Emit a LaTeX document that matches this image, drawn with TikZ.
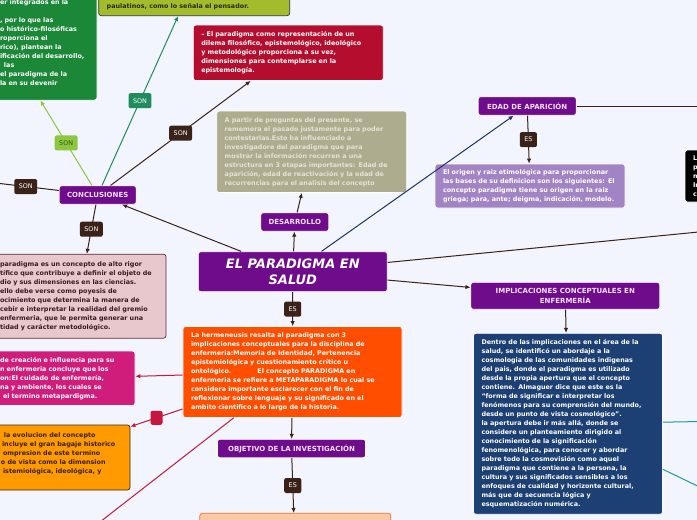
\documentclass[tikz,border=0pt]{standalone}
\usepackage{fontspec}
\setmainfont{DejaVu Sans}
\usetikzlibrary{positioning,arrows.meta,calc}
\hyphenpenalty=10000

\definecolor{bgcol}{HTML}{F2F5FD}
\definecolor{titlepurple}{HTML}{6E0C8C}
\definecolor{headtext}{HTML}{F0E2F6}
\definecolor{linebrown}{HTML}{3B2218}
\definecolor{hermorange}{HTML}{FF4E00}
\definecolor{dilemared}{HTML}{B40D2E}
\definecolor{khaki}{HTML}{AEAC8F}
\definecolor{khakitext}{HTML}{E4E3D5}
\definecolor{olivebox}{HTML}{A3BC2C}
\definecolor{olivetext}{HTML}{2A2A12}
\definecolor{greenbox}{HTML}{1B8838}
\definecolor{lightgreen}{HTML}{8DC63F}
\definecolor{sontext}{HTML}{2F5A1A}
\definecolor{tealgreen}{HTML}{1E8C5C}
\definecolor{navyline}{HTML}{1C3566}
\definecolor{lavender}{HTML}{A283C3}
\definecolor{bluebox}{HTML}{1C3F74}
\definecolor{tealline}{HTML}{1A9AA2}
\definecolor{pinkbox}{HTML}{E8C7CD}
\definecolor{pinkborder}{HTML}{5E2A38}
\definecolor{pinktext}{HTML}{3C1A22}
\definecolor{magentabox}{HTML}{D01C7B}
\definecolor{crimson}{HTML}{C8163F}
\definecolor{yellowbox}{HTML}{FF9A00}
\definecolor{yellowborder}{HTML}{3A2A14}
\definecolor{yellowtext}{HTML}{3A2008}
\definecolor{peachbox}{HTML}{F9C9A2}
\definecolor{peachborder}{HTML}{FF6B2C}

\begin{document}
\begin{tikzpicture}[x=1pt,y=-1pt,>={Latex[length=5pt,width=4.5pt]},
  font=\bfseries\fontsize{6.4}{9}\selectfont,
  card/.style={rounded corners=2.5pt,draw=white,line width=0.7pt,text=white,align=left,inner xsep=8pt,inner ysep=0pt},
  head/.style={rounded corners=2.5pt,fill=titlepurple,draw=white,line width=0.7pt,text=headtext,inner sep=0pt,minimum height=18.5pt,font=\bfseries\fontsize{7}{9.5}\selectfont},
  tag/.style={rounded corners=2pt,fill=linebrown,text=white,inner xsep=4.5pt,inner ysep=0pt,minimum height=15pt,font=\fontsize{6.4}{7}\selectfont},
  link/.style={->,linebrown,line width=1pt}]
  \useasboundingbox (0,0) rectangle (697,520);
  \fill[bgcol] (0,0) rectangle (697,520);

  % centre and the column below it
  \node[head,font=\bfseries\itshape\fontsize{13}{16}\selectfont,text=white,align=center,minimum width=189pt,minimum height=40pt] (title) at (292.8,271.7) {EL PARADIGMA EN\\SALUD};
  \node[card,fill=hermorange,minimum width=219pt,minimum height=91pt,text width=203pt] (herm) at (292.5,372) {La hermeneusis resalta al paradigma con 3\\implicaciones conceptuales para la disciplina de\\enfermeria:Memoria de Identidad, Pertenencia\\epistemiológica y cuestionamiento crítico u\\ontológico.\hspace{26pt}El concepto PARADIGMA en\\enfermeria se refiere a METAPARADIGMA lo cual se\\considera importante esclarecer con el fin de\\reflexionar sobre lenguaje y su significado en el\\ambito cientifico a lo largo de la historia.};
  \node[head,minimum width=148pt] (goal) at (291.5,448.5) {OBJETIVO DE LA INVESTIGACIÓN};
  \node[card,fill=peachbox,draw=peachborder,minimum width=191pt,minimum height=92pt] (aim) at (295.3,559.3) {};

  % desarrollo
  \node[head,minimum width=68pt] (devel) at (294.8,222) {DESARROLLO};
  \node[card,fill=khaki,text=khakitext,minimum width=190pt,minimum height=81.5pt,text width=174pt] (stages) at (311.7,151.8) {A partir de preguntas del presente, se\\rememora el pasado justamente para poder\\contestarlas.Esto ha influenciado a\\investigadore del paradigma que para\\mostrar la información recurren a una\\estructura en 3 etapas importantes: Edad de\\aparición, edad de reactivación y la edad de\\recurrencias para el analisis del concepto};

  % conclusiones
  \node[head,minimum width=77pt] (concl) at (97.7,195) {CONCLUSIONES};
  \node[card,fill=dilemared,minimum width=190pt,minimum height=55.5pt,text width=174pt] (dilema) at (288.3,52.8) {– El paradigma como representación de un\\dilema filosófico, epistemológico, ideológico\\y metodológico proporciona a su vez,\\dimensiones para contemplarse en la\\epistemología.};
  \node[card,fill=olivebox,draw=black!80,text=olivetext,anchor=south,minimum width=191pt,text width=175pt,text height=60pt,text depth=4pt,inner ysep=3.5pt] (gradual) at (194.2,16) {paulatinos, como lo señala el pensador.};
  \node[card,fill=greenbox,minimum width=105pt,minimum height=115pt,text width=89pt] (roots) at (44.5,42.6) {er integrados en la\\[9pt], por lo que las\\o histórico-filosóficas\\roporciona el\\rico), plantean la\\ificación del desarrollo,\\\hspace*{4pt}las\\el paradigma de la\\la en su devenir};
  \node[card,fill=pinkbox,draw=pinkborder,text=pinktext,minimum width=174pt,minimum height=84pt,text width=158pt] (rigor) at (79,296.2) {paradigma es un concepto de alto rigor\\tífico que contribuye a definir el objeto de\\dio y sus dimensiones en las ciencias.\\ello debe verse como poyesis de\\ocimiento que determina la manera de\\cebir e interpretar la realidad del gremio\\enfermeria, que le permita generar una\\tidad y carácter metodológico.};

  % left of the hermeneusis box
  \node[card,fill=magentabox,minimum width=143pt,minimum height=54.5pt,text width=127pt] (creation) at (63.5,378.3) {de creación e influencia para su\\n enfermeria concluye que los\\on:El cuidado de enfermería,\\na y ambiente, los cuales se\\\hspace*{3pt}el termino metapardigma.};
  \node[card,fill=yellowbox,draw=yellowborder,text=yellowtext,minimum width=138pt,minimum height=65pt,text width=122pt] (evol) at (61,457.5) {\hspace*{4pt}la evolucion del concepto\\\hspace*{2pt}incluye el gran bagaje historico\\\hspace*{3pt}ompresion de este termino\\\hspace*{1pt}o de vista como la dimension\\\hspace*{3pt}istemiológica, ideológica, y\\\mbox{}};

  % right side
  \node[head,minimum width=98pt] (origin) at (527.2,106) {EDAD DE APARICIÓN};
  \node[card,fill=lavender,minimum width=190pt,minimum height=44pt,text width=174pt] (etym) at (530,186) {El origen y raiz etimológica para proporcionar\\las bases de su definicion son los siguientes: El\\concepto paradigma tiene su origen en la raiz\\griega; para, ante; deigma, indicación, modelo.};
  \node[card,fill=black,minimum width=190pt,minimum height=52pt,text width=174pt] (edge) at (780,176) {L\\p\\m\\In\\c};
  \node[head,align=center,minimum width=189pt,minimum height=27pt] (implic) at (565.3,295.8) {IMPLICACIONES CONCEPTUALES EN\\ENFERMERÍA};
  \node[card,fill=bluebox,minimum width=189pt,minimum height=181pt,text width=173pt] (cosmo) at (568,423.8) {Dentro de las implicaciones en el área de la\\salud, se identificó un abordaje a la\\cosmologia de las comunidades indigenas\\del pais, donde el paradigma es utilizado\\desde la propia apertura que el concepto\\contiene. Almaguer dice que este es la\\“forma de significar e interpretar los\\fenómenos para su comprensión del mundo,\\desde un punto de vista cosmológico”.\\la apertura debe ir más allá, donde se\\considere un planteamiento dirigido al\\conocimiento de la significación\\fenomenológica, para conocer y abordar\\sobre todo la cosmovisión como aquel\\paradigma que contiene a la persona, la\\cultura y sus significados sensibles a los\\enfoques de cualidad y horizonte cultural,\\más que de secuencia lógica y\\esquematización numérica.};

  % ends that leave the page
  \coordinate (offleft) at (-40,178.8);
  \coordinate (offedad) at (760,106);
  \coordinate (offright) at (760,226);
  \coordinate (offteal1) at (760,420.5);
  \coordinate (offteal2) at (760,516);
  \coordinate (offcrimson) at (64,550);

  \draw[link] (title) -- (herm) node[tag,midway] {ES};
  \draw[link] (herm) -- (goal);
  \draw[link] (goal) -- (aim) node[tag,midway] {ES};
  \draw[link] (title) -- (devel);
  \draw[link] (devel) -- (stages);
  \draw[link] (title) -- (concl);
  \draw[->,navyline,line width=1pt] (title) -- (origin);
  \draw[link] (origin) -- (etym) node[tag,midway] {ES};
  \draw[link] (origin) -- (offedad);
  \draw[link] (title) -- (offright);
  \draw[link] (title) -- (implic);
  \draw[link] (implic) -- (cosmo);
  \draw[->,tealline,line width=1pt] (cosmo) -- (offteal1);
  \draw[->,tealline,line width=1pt] (cosmo) -- (offteal2);
  \draw[link] (concl) -- (dilema) node[tag,midway] {SON};
  \draw[->,tealgreen,line width=1pt] (concl) -- (gradual) node[tag,fill=tealgreen,midway] {SON};
  \draw[->,lightgreen,line width=1pt] (concl) -- (roots.266) node[tag,fill=lightgreen,text=sontext,midway] {SON};
  \draw[link] (concl) -- (offleft) node[tag,pos=0.335] {SON};
  \draw[link] (concl) -- (rigor) node[tag,midway] {SON};
  \draw[->,crimson,line width=1pt] (herm) -- (creation);
  \draw[->,crimson,line width=1pt] (herm) -- (evol.24) node[tag,fill=crimson,midway,minimum width=12pt,minimum height=14pt,inner sep=0pt] {};
  \draw[->,crimson,line width=1pt] (herm) -- (offcrimson);
\end{tikzpicture}
\end{document}
